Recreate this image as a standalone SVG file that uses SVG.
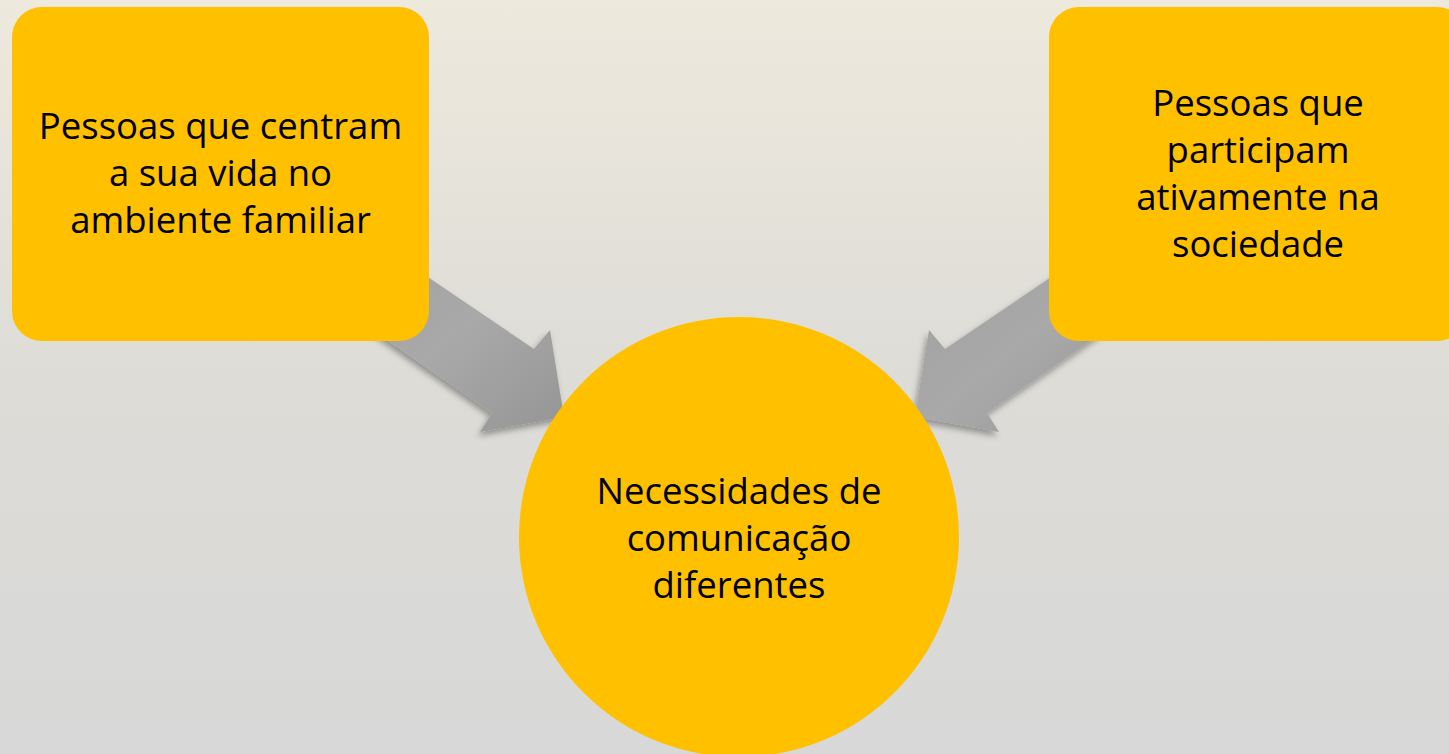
<svg xmlns="http://www.w3.org/2000/svg" width="1449" height="754" viewBox="0 0 1449 754">
<defs>
<linearGradient id="bg" x1="0" y1="0" x2="0" y2="1">
<stop offset="0" stop-color="#eee9dd"/>
<stop offset="0.5" stop-color="#dddcd7"/>
<stop offset="1" stop-color="#d8d8d8"/>
</linearGradient>
<linearGradient id="arrowGrad" x1="0" y1="0" x2="1" y2="1">
<stop offset="0" stop-color="#9e9e9e"/>
<stop offset="0.5" stop-color="#a9a9a9"/>
<stop offset="1" stop-color="#959595"/>
</linearGradient>
<filter id="shadow" x="-20%" y="-20%" width="140%" height="140%">
<feDropShadow dx="-2" dy="4" stdDeviation="3" flood-color="#000" flood-opacity="0.35"/>
</filter>
<style>
.node { fill: #ffc000; }
.label { font-family: "Open Sans", "Noto Sans", sans-serif; font-size: 36.5px; fill: #000; text-anchor: middle; }
.arrow { fill: url(#arrowGrad); filter: url(#shadow); }
</style>
</defs>
<rect x="0" y="0" width="1449" height="754" fill="url(#bg)"/>
<g id="connectors">
<polygon class="arrow" points="376,242 534,349 550,330 564,417 480,432 492,413 338,306"/>
<polygon class="arrow" points="1103,242 945,349 929,330 915,417 999,432 987,413 1141,306"/>
</g>
<g id="node-left">
<rect class="node" x="12" y="7" width="417" height="334" rx="30" ry="30"/>
<text class="label" x="220.5" y="139">Pessoas que centram</text>
<text class="label" x="220.5" y="186">a sua vida no</text>
<text class="label" x="220.5" y="233">ambiente familiar</text>
</g>
<g id="node-right">
<rect class="node" x="1049" y="7" width="418" height="334" rx="30" ry="30"/>
<text class="label" x="1258" y="116">Pessoas que</text>
<text class="label" x="1258" y="163">participam</text>
<text class="label" x="1258" y="210">ativamente na</text>
<text class="label" x="1258" y="257">sociedade</text>
</g>
<g id="node-center">
<circle class="node" cx="739" cy="537" r="220"/>
<text class="label" x="739" y="504">Necessidades de</text>
<text class="label" x="739" y="551">comunicação</text>
<text class="label" x="739" y="598">diferentes</text>
</g>
</svg>
